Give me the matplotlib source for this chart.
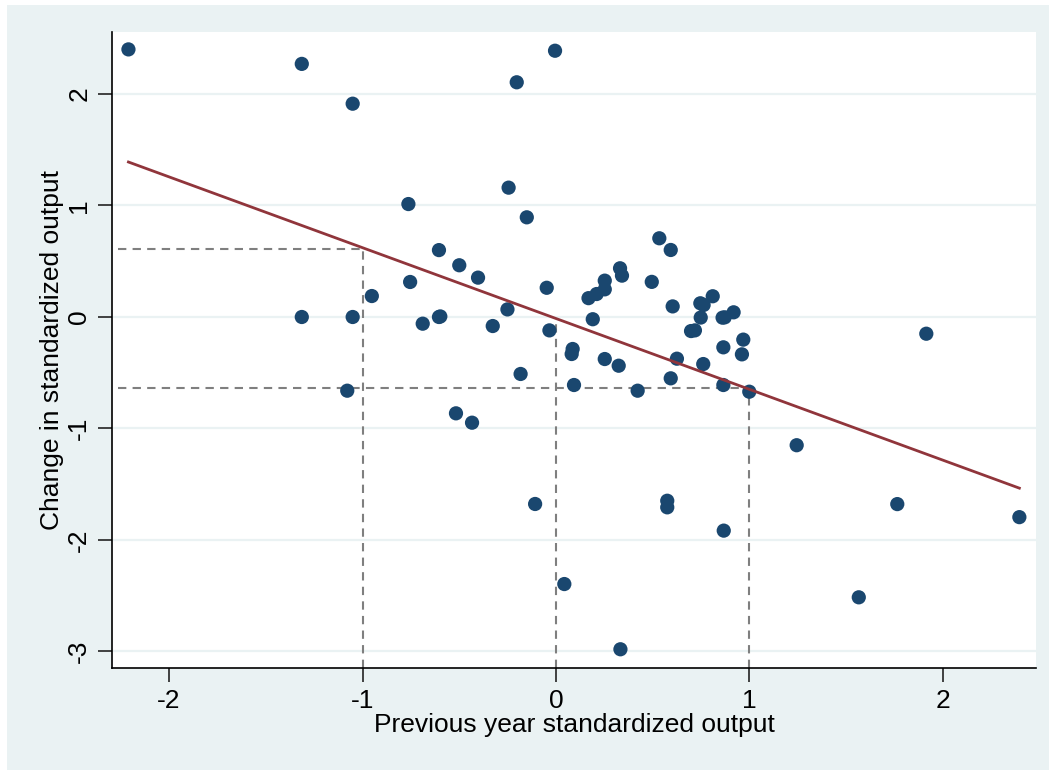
import matplotlib
matplotlib.use("Agg")
import matplotlib.pyplot as plt
from matplotlib.patches import Rectangle

# previous year standardized output (x) and change in it (y)
prev_output = [-2.21, -1.314, -1.051, -0.763, -0.605, -0.754, -0.952, -1.314,
               -1.051, -0.689, -0.605, -0.598, -1.079, -0.005, -0.203, -0.245,
               -0.151, -0.500, -0.403, -0.048, -0.251, 0.534, 0.593, 0.331,
               0.341, 0.495, 0.252, 0.252, 0.210, 0.168, 0.603, 0.810, 0.746,
               0.763, 0.918, 0.861, 0.872, 0.748, 0.190, -0.327, -0.034,
               -0.183, -0.517, -0.434, 0.086, 0.081, 0.093, 0.252, 0.324,
               0.422, 0.593, 0.625, 0.698, 0.718, 0.761, 0.865, 0.865, 0.968,
               0.961, 0.999, 1.244, -0.108, 0.575, 0.575, 0.867, 0.043, 0.333,
               1.565, 1.764, 2.395, 1.914]
change_output = [2.40, 2.27, 1.913, 1.013, 0.600, 0.314, 0.188, 0.0,
                 0.0, -0.060, 0.0, 0.005, -0.661, 2.388, 2.105, 1.160,
                 0.894, 0.464, 0.353, 0.262, 0.068, 0.706, 0.601, 0.437,
                 0.371, 0.315, 0.326, 0.248, 0.206, 0.169, 0.095, 0.186, 0.123,
                 0.108, 0.042, -0.006, -0.003, -0.005, -0.020, -0.081, -0.120,
                 -0.511, -0.864, -0.948, -0.287, -0.332, -0.610, -0.377, -0.437,
                 -0.661, -0.550, -0.374, -0.126, -0.120, -0.422, -0.272, -0.610,
                 -0.203, -0.335, -0.670, -1.150, -1.677, -1.648, -1.707, -1.916,
                 -2.395, -2.980, -2.514, -1.678, -1.795, -0.150]

# fitted line end points
fit_x = [-2.21, 2.395]
fit_y = [1.39, -1.535]

# reference guides: x values and fitted y at them
guide_x = [-1, 0, 1]
guide_y = [0.61, -0.01, -0.637]

x_ticks = [-2, -1, 0, 1, 2]
y_ticks = [-3, -2, -1, 0, 1, 2]

bg = "#eaf2f3"
navy = "#1a476f"
maroon = "#90353b"
font = ["Liberation Sans", "DejaVu Sans"]
plt.rcParams['font.family'] = font

fig = plt.figure(figsize=(10.49, 7.70), dpi=100)
fig.patch.set_facecolor("white")
fig.add_artist(Rectangle((7 / 1049, 0), 1, 1 - 5 / 770,
                         transform=fig.transFigure, facecolor=bg,
                         edgecolor="none", zorder=-10))

ax = fig.add_axes([112 / 1049, 1 - 668 / 770, (1036 - 112) / 1049, (668 - 32) / 770])
ax.set_facecolor("white")
ax.set_xlim(-2.295, 2.481)
ax.set_ylim(-3.148, 2.556)

for t in y_ticks:
    ax.axhline(t, color=bg, lw=1.6, zorder=1)

xmin = ax.get_xlim()[0]
ymin = ax.get_ylim()[0]
dash = dict(color="#7f7f7f", lw=1.5, ls=(0, (4, 3)), zorder=2)
for gx, gy in zip(guide_x, guide_y):
    ax.plot([gx, gx], [ymin, gy], **dash)
    if gx != 0:
        ax.plot([xmin + 0.03, gx], [gy, gy], **dash)

ax.scatter(prev_output, change_output, s=105, color=navy, edgecolors="none", zorder=3)
ax.plot(fit_x, fit_y, color=maroon, lw=2, zorder=4)

for side in ["top", "right"]:
    ax.spines[side].set_visible(False)
for side in ["left", "bottom"]:
    ax.spines[side].set_color("black")
    ax.spines[side].set_linewidth(1.2)

ax.set_xticks(x_ticks)
ax.set_yticks(y_ticks)
ax.set_xticklabels([str(t) for t in x_ticks])
ax.set_yticklabels([str(t) for t in y_ticks], rotation=90, va="center")
ax.tick_params(axis="both", direction="out", length=10, width=1.3,
               color="#333333", labelsize=19, pad=5)

ax.set_xlabel("Previous year standardized output", fontsize=19, labelpad=0)
ax.set_ylabel("Change in standardized output", fontsize=19, labelpad=2)

fig.savefig("out.png", dpi=100, facecolor=fig.get_facecolor())
